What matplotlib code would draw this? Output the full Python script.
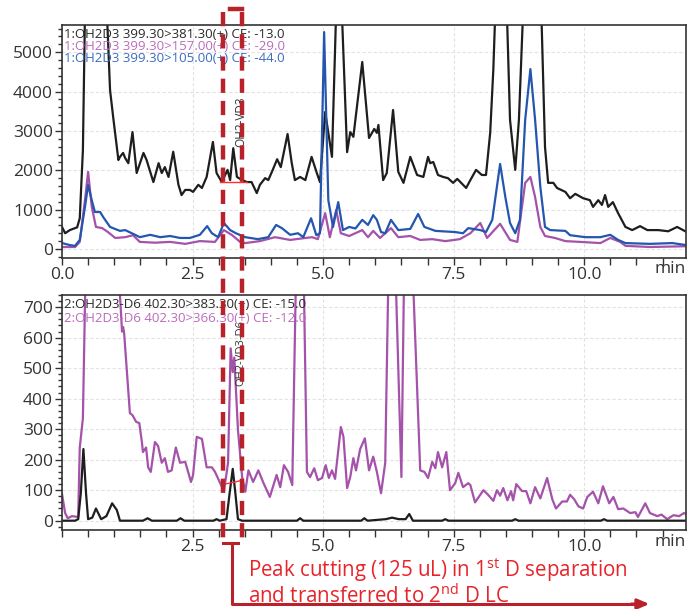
import matplotlib
matplotlib.use("Agg")
import matplotlib.pyplot as plt
from matplotlib.ticker import MultipleLocator, FixedLocator
from matplotlib.transforms import blended_transform_factory

plt.rcParams['font.family'] = ['Open Sans', 'DejaVu Sans']
plt.rcParams['mathtext.fontset'] = 'custom'
plt.rcParams['mathtext.rm'] = 'Open Sans'

# --- 1st D: OH2D3 channels (min, counts) ---
t_381 = [0.00, 0.06, 0.15, 0.29, 0.34, 0.40, 0.44, 0.55, 0.70, 0.86, 0.92, 0.98, 1.08, 1.11, 1.17,
         1.21, 1.27, 1.35, 1.43, 1.56, 1.62, 1.75, 1.85, 1.91, 1.97, 2.04, 2.13, 2.23, 2.29, 2.36,
         2.45, 2.51, 2.61, 2.68, 2.77, 2.89, 2.96, 3.06, 3.17, 3.22, 3.28, 3.35, 3.45, 3.54, 3.63,
         3.73, 3.79, 3.89, 3.95, 4.02, 4.12, 4.19, 4.32, 4.40, 4.46, 4.56, 4.66, 4.78, 4.88, 4.94,
         5.04, 5.17, 5.25, 5.31, 5.36, 5.46, 5.52, 5.58, 5.75, 5.88, 5.98, 6.03, 6.06, 6.15, 6.22,
         6.34, 6.44, 6.54, 6.67, 6.80, 6.92, 7.01, 7.05, 7.11, 7.20, 7.30, 7.39, 7.49, 7.57, 7.74,
         7.82, 7.93, 8.04, 8.12, 8.20, 8.26, 8.31, 8.42, 8.52, 8.58, 8.68, 8.75, 8.83, 9.00, 9.18,
         9.25, 9.31, 9.41, 9.48, 9.64, 9.73, 9.83, 9.98, 10.11, 10.17, 10.27, 10.34, 10.40, 10.46,
         10.55, 10.65, 10.79, 10.92, 11.07, 11.21, 11.42, 11.61, 11.78, 11.95]
i_381 = [560, 400, 480, 550, 780, 2500, 6000, 9000, 9000, 6000, 4040, 3350, 2260, 2340, 2440,
         2310, 2180, 2970, 1930, 2440, 2260, 1700, 2180, 1930, 2080, 1830, 2470, 1630, 1370, 1500,
         1500, 1450, 1630, 1550, 1830, 2720, 1930, 1700, 2010, 1750, 2560, 1830, 1750, 1700, 1700,
         1420, 1630, 1800, 1750, 1960, 2280, 2080, 2920, 2180, 1750, 1830, 1750, 2340, 1930, 1700,
         3480, 2340, 6000, 9000, 6000, 2460, 2970, 2850, 4750, 2820, 3050, 2950, 3150, 1750, 1930,
         3530, 1960, 1680, 2340, 1880, 1830, 2340, 2180, 2210, 1880, 1830, 1800, 1680, 1780, 1550,
         1750, 2010, 1880, 1880, 2950, 4550, 6500, 9000, 6000, 3280, 2010, 3280, 6000, 12000, 6000,
         2590, 1680, 1680, 1550, 1450, 1290, 1400, 1290, 1240, 1070, 1240, 1120, 1370, 1070,
         1190, 910, 560, 480, 580, 480, 480, 450, 560, 440]

t_105 = [0.00, 0.15, 0.25, 0.34, 0.44, 0.50, 0.57, 0.63, 0.73, 0.79, 0.92, 1.11, 1.21, 1.40, 1.49,
         1.69, 1.88, 2.07, 2.26, 2.45, 2.64, 2.78, 2.87, 2.99, 3.10, 3.22, 3.33, 3.51, 3.75, 3.95,
         4.10, 4.21, 4.37, 4.52, 4.62, 4.77, 4.87, 4.94, 5.02, 5.10, 5.19, 5.29, 5.38, 5.50, 5.62,
         5.75, 5.86, 5.96, 6.03, 6.11, 6.19, 6.30, 6.44, 6.67, 6.82, 6.94, 7.15, 7.53, 7.68, 7.78,
         8.01, 8.12, 8.24, 8.39, 8.49, 8.58, 8.68, 8.77, 8.87, 8.97, 9.06, 9.16, 9.25, 9.35, 9.64,
         9.73, 10.02, 10.31, 10.50, 10.65, 10.79, 11.26, 11.69, 11.95]
i_105 = [150, 100, 80, 230, 1070, 1630, 1240, 940, 940, 810, 560, 460, 480, 360, 300,
         360, 300, 330, 280, 280, 360, 580, 400, 300, 660, 480, 400, 300, 250, 300,
         610, 530, 360, 400, 300, 780, 350, 400, 5510, 1240, 560, 1190, 480, 560, 520,
         740, 610, 860, 740, 430, 400, 740, 480, 510, 890, 560, 460, 430, 400, 530,
         480, 430, 740, 2160, 1320, 660, 400, 740, 3280, 4570, 3280, 1580, 560, 480, 460,
         350, 300, 300, 360, 230, 150, 130, 150, 100]

t_157 = [0.00, 0.25, 0.34, 0.44, 0.50, 0.57, 0.65, 0.77, 0.88, 1.02, 1.21, 1.36, 1.49, 1.78, 2.07,
         2.36, 2.64, 2.93, 3.10, 3.26, 3.41, 3.51, 3.79, 4.08, 4.37, 4.66, 4.79, 4.90, 5.04, 5.13,
         5.25, 5.34, 5.50, 5.75, 5.86, 5.96, 6.09, 6.30, 6.44, 6.67, 6.86, 7.09, 7.34, 7.62, 7.82,
         8.01, 8.14, 8.39, 8.58, 8.72, 8.87, 8.97, 9.06, 9.16, 9.25, 9.44, 9.64, 9.92, 10.31, 10.50,
         10.69, 10.79, 11.26, 11.95]
i_157 = [50, 50, 180, 1240, 1960, 1070, 560, 530, 430, 280, 300, 350, 180, 160, 180,
         130, 200, 180, 480, 350, 180, 150, 200, 300, 230, 280, 300, 250, 910, 300,
         990, 400, 330, 480, 300, 460, 280, 530, 300, 330, 230, 250, 200, 250, 400,
         660, 280, 640, 230, 180, 1680, 1830, 1320, 560, 330, 280, 200, 180, 150, 280,
         180, 80, 50, 70]

# --- 2nd D: OH2D3-D6 channels ---
t_383 = [0.00, 0.25, 0.31, 0.36, 0.41, 0.46, 0.50, 0.58, 0.65, 0.75, 0.85, 0.96, 1.05, 1.11,
         1.55, 1.64, 1.72, 2.20, 2.27, 2.34, 2.90, 2.96, 3.02, 3.15, 3.21, 3.27, 3.32, 3.37,
         3.45, 4.50, 4.56, 4.62, 5.73, 5.79, 5.85, 6.20, 6.32, 6.45, 6.58, 6.65, 6.72, 7.28,
         7.34, 7.40, 8.62, 8.68, 8.74, 10.32, 10.38, 10.44, 11.95]
i_383 = [0, 0, 5, 90, 235, 90, 5, 10, 40, 5, 15, 57, 35, 0,
         0, 8, 0, 0, 8, 0, 0, 5, 0, 5, 90, 170, 90, 5,
         0, 0, 8, 0, 0, 8, 0, 5, 10, 5, 5, 22, 0, 0,
         5, 0, 0, 5, 0, 0, 5, 0, 0]

t_366 = [0.00, 0.06, 0.11, 0.19, 0.31, 0.34, 0.40, 0.46, 0.60, 0.80, 1.09, 1.15, 1.17, 1.19, 1.24,
         1.30, 1.35, 1.42, 1.48, 1.53, 1.55, 1.61, 1.65, 1.70, 1.78, 1.84, 1.91, 1.97, 2.03, 2.10,
         2.18, 2.26, 2.36, 2.47, 2.51, 2.58, 2.68, 2.77, 2.87, 2.93, 3.03, 3.10, 3.18, 3.23, 3.27,
         3.30, 3.37, 3.45, 3.51, 3.57, 3.66, 3.76, 3.86, 3.98, 4.11, 4.18, 4.25, 4.33, 4.41, 4.48,
         4.53, 4.63, 4.69, 4.75, 4.83, 4.90, 4.98, 5.05, 5.11, 5.17, 5.23, 5.34, 5.39, 5.46, 5.52,
         5.58, 5.63, 5.71, 5.80, 5.88, 5.96, 6.03, 6.11, 6.19, 6.25, 6.31, 6.39, 6.50, 6.55, 6.62,
         6.72, 6.86, 6.94, 7.01, 7.09, 7.15, 7.20, 7.28, 7.36, 7.43, 7.53, 7.59, 7.68, 7.78, 7.82,
         7.91, 8.07, 8.16, 8.26, 8.33, 8.39, 8.45, 8.53, 8.60, 8.64, 8.70, 8.81, 8.89, 8.97, 9.06,
         9.16, 9.29, 9.39, 9.46, 9.58, 9.67, 9.73, 9.81, 9.89, 9.98, 10.06, 10.17, 10.27, 10.36,
         10.48, 10.56, 10.65, 10.75, 10.88, 10.98, 11.03, 11.17, 11.26, 11.40, 11.48, 11.59,
         11.71, 11.82, 11.91, 11.95]
i_366 = [88, 25, 8, 15, 12, 240, 335, 900, 1500, 1200, 800, 620, 635, 615, 495,
         353, 346, 324, 320, 258, 225, 240, 175, 160, 258, 245, 190, 205, 160, 165,
         240, 190, 193, 127, 150, 275, 268, 175, 175, 160, 123, 95, 190, 565, 487,
         535, 297, 143, 95, 165, 127, 165, 123, 78, 150, 110, 182, 160, 117, 800,
         1200, 800, 160, 143, 172, 133, 140, 182, 140, 165, 137, 307, 275, 107, 143,
         205, 165, 235, 270, 165, 210, 160, 90, 190, 800, 1200, 800, 143, 800, 1200,
         800, 165, 160, 140, 193, 172, 225, 175, 225, 100, 123, 157, 110, 123, 117,
         60, 100, 85, 65, 100, 82, 107, 67, 97, 67, 120, 97, 97, 57, 110,
         73, 140, 70, 40, 63, 63, 85, 70, 47, 40, 78, 95, 57, 113,
         57, 78, 38, 40, 25, 28, 12, 57, 25, 15, 20, 5,
         18, 15, 25, 22]

labels_top = ["1:OH2D3 399.30>381.30(+) CE: -13.0",
              "1:OH2D3 399.30>157.00(+) CE: -29.0",
              "1:OH2D3 399.30>105.00(+) CE: -44.0"]
labels_bot = ["2:OH2D3-D6 402.30>383.30(+) CE: -15.0",
              "2:OH2D3-D6 402.30>366.30(+) CE: -12.0"]
note = ("Peak cutting (125 uL) in 1$^{\\mathrm{st}}$ D separation\n"
        "and transferred to 2$^{\\mathrm{nd}}$ D LC")

cut_start, cut_end = 3.08, 3.45   # heart-cut window, min

c_black = "#1e1e1e"
c_purple = "#a452aa"
c_blue = "#2456b0"
c_red = "#b8232b"
c_text_red = "#e8242b"

W, H = 687, 609
fig = plt.figure(figsize=(W / 100, H / 100), dpi=100)
ax1 = fig.add_axes([62 / W, 1 - 258 / H, 624 / W, 233 / H])
ax2 = fig.add_axes([62 / W, 1 - 530 / H, 624 / W, 235 / H])

ax1.plot(t_381, i_381, color=c_black, lw=1.6)
ax1.plot(t_157, i_157, color=c_purple, lw=1.6)
ax1.plot(t_105, i_105, color=c_blue, lw=1.6)
ax2.plot(t_366, i_366, color=c_purple, lw=1.6)
ax2.plot(t_383, i_383, color=c_black, lw=1.6)

ax1.set_ylim(-229, 5690)
ax2.set_ylim(-30.5, 740)
ax1.yaxis.set_minor_locator(MultipleLocator(200))
ax2.yaxis.set_minor_locator(MultipleLocator(20))
ax1.set_yticks([0, 1000, 2000, 3000, 4000, 5000])
ax2.set_yticks([0, 100, 200, 300, 400, 500, 600, 700])

for ax, xlabels in ((ax1, ["0.0", "2.5", "5.0", "7.5", "10.0"]),
                    (ax2, ["", "2.5", "5.0", "7.5", "10.0"])):
    ax.set_xlim(0, 11.95)
    ax.xaxis.set_major_locator(FixedLocator([0, 2.5, 5.0, 7.5, 10.0]))
    ax.xaxis.set_minor_locator(MultipleLocator(0.5))
    ax.set_xticklabels(xlabels)
    ax.grid(True, which='major', color='#e2e2e2', ls=(0, (3, 2)), lw=0.8)
    ax.tick_params(which='both', direction='out', colors='#333333', labelsize=12.5, width=1.0)
    ax.tick_params(which='major', length=5, pad=1.5)
    ax.tick_params(axis='x', which='minor', length=5)
    ax.tick_params(axis='y', which='minor', length=3)
    for s in ax.spines.values():
        s.set_color('#333333')
        s.set_linewidth(1.2)
    ax.text(0.975, -0.015, "min", transform=ax.transAxes, ha='center', va='top',
            fontsize=12.5, color='#333333')

for k, (lab, col) in enumerate(zip(labels_top, ["#2a2a2a", "#bb6cbb", "#3a6cc0"])):
    ax1.text(0.004, 0.988 - k * 0.052, lab, transform=ax1.transAxes, ha='left', va='top',
             fontsize=9.5, color=col)
for k, (lab, col) in enumerate(zip(labels_bot, ["#2a2a2a", "#bb6cbb"])):
    ax2.text(0.004, 0.988 - k * 0.060, lab, transform=ax2.transAxes, ha='left', va='top',
             fontsize=9.5, color=col)

# peak labels and integration baselines
ax1.text(3.42, 2600, "OH2-VD3", rotation=90, ha='center', va='bottom', fontsize=8.5, color='#333333')
ax2.text(3.42, 440, "OH2-VD3-D6", rotation=90, ha='center', va='bottom', fontsize=8, color='#333333')
ax1.plot([3.02, 3.54], [1700, 1700], color='#ff3030', lw=1.0)
ax2.plot([3.12, 3.47], [120, 133], color='#ff3030', lw=1.0)

# heart-cut window and arrow, drawn across the figure
tr = blended_transform_factory(ax1.transData, fig.transFigure)
fy = lambda py: 1 - py / H
dash = (0, (3.2, 1.8))
for xc in (cut_start, cut_end):
    fig.add_artist(plt.Line2D([xc, xc], [fy(12), fy(538)], transform=tr, color=c_red,
                              lw=3.2, ls=dash, clip_on=False))
fig.add_artist(plt.Line2D([cut_start + 0.13, cut_end], [fy(9), fy(9)], transform=tr,
                          color=c_red, lw=3.2, clip_on=False))
mid = (cut_start + cut_end) / 2
fig.add_artist(plt.Line2D([cut_start, cut_end - 0.08], [fy(543), fy(543)], transform=tr,
                          color=c_red, lw=2.2, clip_on=False))
fig.add_artist(plt.Line2D([mid, mid, 11.0], [fy(543), fy(604), fy(604)], transform=tr,
                          color=c_red, lw=2.2, clip_on=False))
ax2.annotate("", xy=(11.25, fy(604)), xycoords=tr, xytext=(10.9, fy(604)), textcoords=tr,
             arrowprops=dict(arrowstyle='-|>,head_length=0.7,head_width=0.3', color=c_red,
                             lw=2.2, shrinkA=0, shrinkB=0), annotation_clip=False)

fig.text(248 / W, fy(556), note, ha='left', va='top', fontsize=14.8, color=c_text_red,
         linespacing=1.05)

fig.savefig("out.png", dpi=100)
